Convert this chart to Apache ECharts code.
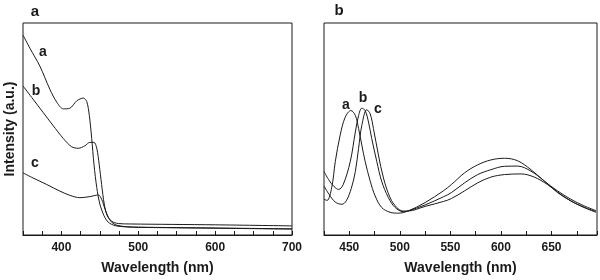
<!DOCTYPE html>
<html lang="en">

<head>
    <meta charset="UTF-8">
    <title>Absorption / PL spectra</title>
    <script src="https://cdn.jsdelivr.net/npm/echarts@6/dist/echarts.min.js"></script>
    <style>
        body { margin: 0; padding: 0; background: #fff; }
        #chart { width: 600px; height: 280px; }
    </style>
</head>

<body>
    <div id="chart"></div>
    <script>
        // panel a: absorption, [wavelength nm, intensity a.u.]
        const absA = [[350, 94.3], [359, 88.1], [372, 79.6], [385, 68.7], [394, 62.6], [402.5, 59.5], [411, 59.8], [420, 63.3], [428.5, 64.6], [433, 62.9], [436.3, 56.4], [439.4, 45.5], [442.4, 33.1], [446, 22.3], [450, 14.6], [455.4, 9.1], [461, 6.0], [470, 4.4], [485, 3.8], [500, 3.6], [600, 3.2], [700, 2.8]];
        const absB = [[350, 70.3], [363, 64.1], [376, 57.9], [389, 51.7], [402.5, 45.5], [413, 41.7], [422, 40.9], [430.6, 42.1], [437, 43.7], [442.4, 43.7], [446, 40.9], [449.2, 33.1], [452.3, 23.8], [455.7, 14.6], [459.6, 9.1], [465.4, 6.5], [474, 5.4], [490, 5.2], [600, 4.8], [700, 4.3]];
        const absC = [[350, 29.3], [363, 26.9], [381, 23.8], [398, 20.7], [411, 18.7], [424, 17.6], [437, 18.1], [448, 18.9], [452.3, 16.9], [456.7, 12.2], [461, 8.4], [465.4, 6.0], [472, 4.6], [485, 3.9], [500, 3.7], [600, 3.3], [700, 2.9]];

        // panel b: photoluminescence
        const plA = [[425, 16.9], [428, 16.3], [432.6, 22.3], [436.2, 34.7], [441, 47.1], [446, 55.6], [451.6, 58.7], [456, 56.4], [459.2, 50.2], [462.4, 42.4], [465.7, 34.7], [470.7, 25.4], [475.6, 18.4], [482, 13.0], [490.4, 10.7], [498.5, 10.3], [508, 11.3], [525, 15.3], [543, 20.8], [551, 23.8], [564, 29.3], [577, 33.1], [590, 35.4], [603.5, 36.2], [616.6, 35.0], [629.7, 30.8], [643, 25.4], [656, 20.8], [669, 16.9], [682, 13.8], [694, 11.5]];
        const plB = [[425, 30.0], [429.6, 26.1], [435, 22.8], [439.5, 21.5], [444, 23.8], [451, 34.7], [456, 48.6], [459.2, 56.3], [462.4, 59.8], [465.7, 58.7], [469, 53.3], [472.2, 45.5], [477.2, 34.7], [482, 25.4], [488.7, 17.6], [495.3, 13.0], [503.4, 11.0], [508, 11.3], [525, 14.2], [543, 18.0], [551, 20.0], [564, 24.6], [577, 28.5], [590, 30.8], [603.5, 32.4], [616.6, 32.5], [629.7, 30.1], [643, 25.4], [656, 20.0], [669, 16.1], [682, 13.0], [694, 10.7]];
        const plC = [[425, 23.1], [430, 19.2], [436, 15.6], [442.7, 14.5], [447, 16.1], [452, 22.0], [456, 30.0], [459.2, 40.9], [462.4, 51.7], [467.3, 59.1], [470.7, 57.1], [473.9, 50.2], [478.8, 37.8], [483.8, 26.9], [490.4, 17.6], [496.9, 13.0], [503.4, 11.3], [508, 11.3], [525, 13.5], [543, 15.8], [551, 17.2], [564, 20.8], [577, 24.6], [590, 27.3], [603.5, 28.5], [620, 28.8], [633, 27.3], [646, 23.8], [659, 19.2], [672, 15.3], [685.5, 12.5], [694, 11.1]];

        const ink = '#1a1a1a';
        const font = '"Liberation Sans", Arial, sans-serif';

        function xAxisOf(grid, min, max, step) {
            return {
                type: 'value', gridIndex: grid, min: min, max: max, interval: 25,
                name: 'Wavelength (nm)', nameLocation: 'middle', nameGap: 26,
                nameTextStyle: { color: ink, fontSize: 14, fontWeight: 'bold', fontFamily: font },
                axisLine: { lineStyle: { color: ink, width: 1 } },
                axisTick: { inside: true, length: 4, lineStyle: { color: ink } },
                axisLabel: {
                    color: ink, fontSize: 12, fontWeight: 'bold', fontFamily: font, margin: 7,
                    formatter: v => (v % step === 0 && v > min && v <= 700 && v !== 695) ? String(v) : ''
                },
                splitLine: { show: false }
            };
        }

        function yAxisOf(grid, name) {
            return {
                type: 'value', gridIndex: grid, min: 0, max: 100,
                name: name, nameLocation: 'middle', nameGap: 6,
                nameTextStyle: { color: ink, fontSize: 14, fontWeight: 'bold', fontFamily: font },
                axisLine: { show: false }, axisTick: { show: false },
                axisLabel: { show: false }, splitLine: { show: false }
            };
        }

        function line(data, idx, smooth) {
            return {
                type: 'line', data: data, xAxisIndex: idx, yAxisIndex: idx,
                symbol: 'none', smooth: smooth, silent: true,
                lineStyle: { color: ink, width: 1 }
            };
        }

        function tag(text, x, y, size) {
            return {
                type: 'text', x: x, y: y,
                style: { text: text, fill: ink, font: 'bold ' + size + 'px ' + font, align: 'center', verticalAlign: 'middle' }
            };
        }

        const chart = echarts.init(document.getElementById('chart'));
        chart.setOption({
            animation: false,
            grid: [
                { left: 23, right: 308, top: 23, bottom: 42, show: true, borderColor: ink, borderWidth: 1 },
                { left: 324, right: 1, top: 23, bottom: 42, show: true, borderColor: ink, borderWidth: 1 }
            ],
            xAxis: [xAxisOf(0, 350, 700, 100), xAxisOf(1, 425, 695, 50)],
            yAxis: [yAxisOf(0, 'Intensity (a.u.)'), yAxisOf(1, '')],
            series: [
                line(absA, 0, 0.3), line(absB, 0, 0.3), line(absC, 0, 0.3),
                line(plA, 1, 0.35), line(plB, 1, 0.35), line(plC, 1, 0.35)
            ],
            graphic: [
                tag('a', 35, 12, 15), tag('b', 339, 11, 15),
                tag('a', 43, 52, 14), tag('b', 36, 91, 14), tag('c', 35, 163, 14),
                tag('a', 346, 105, 14), tag('b', 363, 98, 14), tag('c', 378, 109, 14)
            ]
        });
    </script>
</body>

</html>
